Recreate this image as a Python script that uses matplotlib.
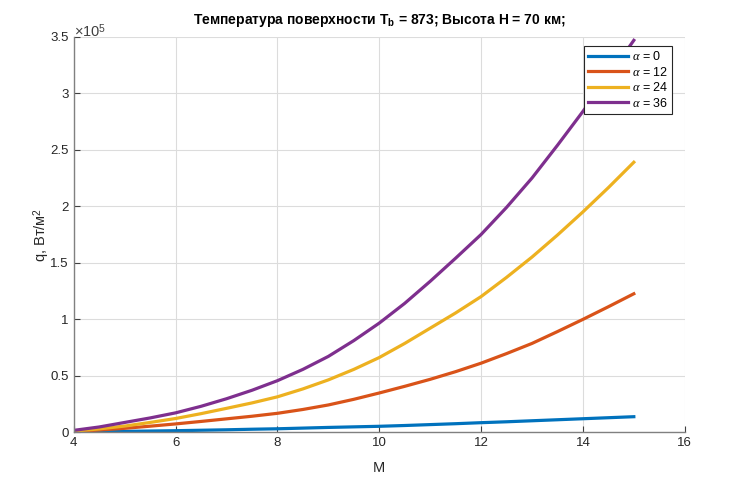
import numpy as np
import matplotlib
matplotlib.use("Agg")
import matplotlib.pyplot as plt
from matplotlib.ticker import FuncFormatter, MultipleLocator

plt.rcParams['font.family'] = ['Liberation Sans', 'DejaVu Sans']
plt.rcParams['mathtext.fontset'] = 'custom'
plt.rcParams['mathtext.rm'] = 'Liberation Sans'
plt.rcParams['mathtext.it'] = 'Liberation Serif:italic'
plt.rcParams['mathtext.bf'] = 'Liberation Sans:bold'

# Mach numbers and heat flux (units of 1e5 W/m^2)
mach = [4, 4.5, 5, 5.5, 6, 6.5, 7, 7.5, 8, 8.5, 9, 9.5, 10, 10.5, 11, 11.5,
        12, 12.5, 13, 13.5, 14, 14.5, 15]
q_a0 = [0.002, 0.004, 0.006, 0.009, 0.012, 0.016, 0.020, 0.025, 0.029, 0.035,
        0.041, 0.046, 0.051, 0.058, 0.066, 0.074, 0.083, 0.091, 0.100, 0.109,
        0.118, 0.127, 0.136]
q_a12 = [0.004, 0.018, 0.033, 0.052, 0.072, 0.094, 0.117, 0.140, 0.166, 0.200,
         0.240, 0.290, 0.346, 0.405, 0.467, 0.535, 0.610, 0.695, 0.785, 0.890,
         0.998, 1.110, 1.225]
q_a24 = [0.008, 0.028, 0.053, 0.085, 0.120, 0.163, 0.210, 0.258, 0.312, 0.382,
         0.462, 0.555, 0.660, 0.785, 0.920, 1.055, 1.200, 1.370, 1.550, 1.745,
         1.950, 2.165, 2.390]
q_a36 = [0.015, 0.045, 0.085, 0.125, 0.170, 0.228, 0.295, 0.370, 0.455, 0.555,
         0.670, 0.810, 0.965, 1.140, 1.335, 1.540, 1.750, 1.990, 2.250, 2.540,
         2.840, 3.150, 3.470]
alphas = [0, 12, 24, 36]
colors = ['#0072BD', '#D95319', '#EDB120', '#7E2F8E']

fig = plt.figure(figsize=(7.3, 4.86), dpi=100)
ax = fig.add_axes([0.101, 0.111, 0.837, 0.813])

for a, q, c in zip(alphas, [q_a0, q_a12, q_a24, q_a36], colors):
    ax.plot(mach, np.array(q) * 1e5, color=c, lw=2.3, label=r'$\alpha$ = %d' % a,
            solid_joinstyle='round')

ax.set_xlim(4, 16)
ax.set_ylim(0, 3.5e5)
ax.xaxis.set_major_locator(MultipleLocator(2))
ax.yaxis.set_major_locator(MultipleLocator(0.5e5))
ax.yaxis.set_major_formatter(FuncFormatter(lambda v, p: '%g' % (v / 1e5)))

ax.grid(True, color='#dcdcdc', lw=0.8)
ax.set_axisbelow(True)
for s in ['top', 'right']:
    ax.spines[s].set_visible(False)
for s in ['left', 'bottom']:
    ax.spines[s].set_color('#808080')
    ax.spines[s].set_linewidth(1.0)
ax.tick_params(direction='in', length=4, colors='#404040', labelsize=9.5,
               labelcolor='#262626')

ax.text(0.0, 0.993, r'$\times10^{5}$', transform=ax.transAxes, fontsize=10.5,
        color='#404040', ha='left', va='bottom')

ax.set_xlabel('M', fontsize=10.5, color='#262626', labelpad=9)
ax.set_ylabel(r'q, Вт/м$^{2}$', fontsize=10.5, color='#262626', labelpad=-1)
ax.set_title(r'Температура поверхности T$_{\mathbf{b}}$ = 873; Высота H = 70 км;',
             fontsize=10, fontweight='bold', color='black', pad=9)

leg = ax.legend(loc='upper right', bbox_to_anchor=(0.99, 0.993), fontsize=9,
                handlelength=3.2, handletextpad=0.3, borderpad=0.35,
                labelspacing=0.2, fancybox=False, framealpha=1)
leg.get_frame().set_edgecolor('#262626')
leg.get_frame().set_linewidth(0.8)

fig.savefig('out.png', dpi=100)
